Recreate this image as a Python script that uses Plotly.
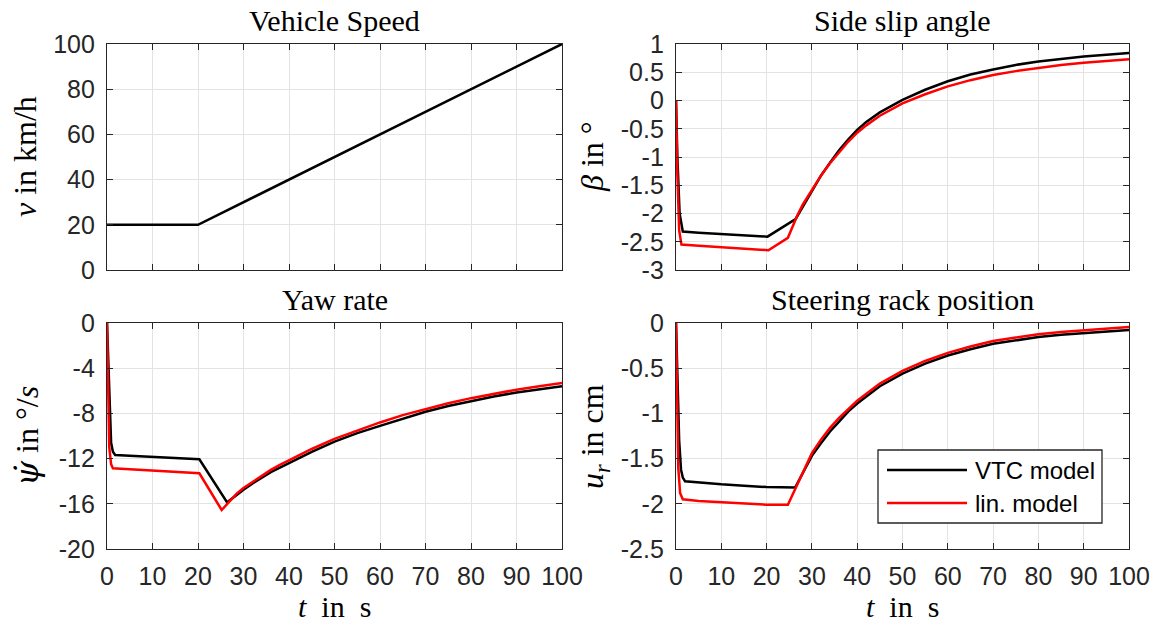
import plotly.graph_objects as go

# ---------------- data ----------------
t_speed = [0, 20, 100]
v_speed = [20, 20, 100]

t_beta_vtc = [0, 0.3, 0.8, 1.5, 5, 10, 15, 20.2, 26.4, 28, 30, 32, 34, 36, 38, 40, 42, 45,
              50, 55, 60, 65, 70, 75, 80, 85, 90, 95, 100]
beta_vtc = [0, -1.0, -2.0, -2.32, -2.34, -2.36, -2.38, -2.41, -2.10, -1.88, -1.60, -1.33, -1.10,
            -0.88, -0.69, -0.52, -0.38, -0.21, 0.01, 0.19, 0.34, 0.46, 0.55, 0.63, 0.69, 0.74,
            0.78, 0.81, 0.84]

t_beta_lin = [0, 0.3, 0.7, 1.2, 5, 10, 15, 20.4, 24.7, 26.8, 28, 30, 32, 34, 36, 38, 40, 42, 45,
              50, 55, 60, 65, 70, 75, 80, 85, 90, 95, 100]
beta_lin = [0, -1.3, -2.3, -2.55, -2.57, -2.60, -2.62, -2.65, -2.43, -2.03, -1.84, -1.58, -1.33,
            -1.11, -0.91, -0.73, -0.57, -0.44, -0.27, -0.05, 0.11, 0.25, 0.36, 0.45, 0.52, 0.58,
            0.63, 0.67, 0.70, 0.73]

t_yaw_vtc = [0, 0.3, 0.6, 0.9, 1.3, 1.8, 5, 10, 15, 20.3, 26.4, 28, 30, 32, 34, 36, 38, 40, 45,
             50, 55, 60, 65, 70, 75, 80, 85, 90, 95, 100]
yaw_vtc = [0, -3.5, -8.0, -10.6, -11.4, -11.68, -11.75, -11.85, -11.95, -12.06, -15.87, -15.35,
           -14.75, -14.2, -13.7, -13.2, -12.8, -12.4, -11.4, -10.5, -9.75, -9.1, -8.45, -7.85,
           -7.35, -6.9, -6.5, -6.15, -5.85, -5.6]

t_yaw_lin = [0, 0.2, 0.5, 0.9, 1.3, 5, 10, 15, 20.3, 25.2, 27, 28.5, 30, 32, 34, 36, 38, 40, 45,
             50, 55, 60, 65, 70, 75, 80, 85, 90, 95, 100]
yaw_lin = [0, -5.0, -11.0, -12.5, -12.85, -12.95, -13.05, -13.15, -13.3, -16.55, -15.75, -15.1,
           -14.6, -14.05, -13.5, -13.0, -12.55, -12.15, -11.15, -10.25, -9.5, -8.8, -8.15, -7.6,
           -7.1, -6.65, -6.25, -5.9, -5.6, -5.3]

t_rack_vtc = [0, 0.3, 0.7, 1.1, 1.5, 2, 5, 10, 15, 20, 26.3, 28, 30, 32, 34, 36, 38, 40, 45, 50,
              55, 60, 65, 70, 75, 80, 85, 90, 95, 100]
rack_vtc = [0, -0.6, -1.3, -1.62, -1.71, -1.75, -1.765, -1.785, -1.80, -1.815, -1.82, -1.66,
            -1.47, -1.33, -1.20, -1.09, -0.98, -0.89, -0.70, -0.56, -0.45, -0.36, -0.29, -0.23,
            -0.19, -0.155, -0.13, -0.11, -0.093, -0.078]

t_rack_lin = [0, 0.2, 0.5, 0.9, 1.5, 5, 10, 15, 20, 24.7, 26, 27.6, 30, 32, 34, 36, 38, 40, 45,
              50, 55, 60, 65, 70, 75, 80, 85, 90, 95, 100]
rack_lin = [0, -0.8, -1.6, -1.88, -1.95, -1.97, -1.985, -2.0, -2.01, -2.01, -1.87, -1.69, -1.44,
            -1.29, -1.16, -1.05, -0.95, -0.86, -0.67, -0.53, -0.42, -0.33, -0.26, -0.20, -0.16,
            -0.125, -0.10, -0.08, -0.06, -0.045]

x_ticks = [0, 10, 20, 30, 40, 50, 60, 70, 80, 90, 100]
speed_ticks = [0, 20, 40, 60, 80, 100]
beta_ticks = [1, 0.5, 0, -0.5, -1, -1.5, -2, -2.5, -3]
yaw_ticks = [0, -4, -8, -12, -16, -20]
rack_ticks = [0, -0.5, -1, -1.5, -2, -2.5]

titles = ["Vehicle Speed", "Side slip angle", "Yaw rate", "Steering rack position"]
ylabels = ["<i>v</i>&nbsp;in&nbsp;km/h", "<i>β</i>&nbsp;in&nbsp;°",
           "<span style='font-family:DejaVu Serif'><i>ψ̇</i></span>&nbsp;in&nbsp;°/<i>s</i>",
           "<i>u</i><sub><i>r</i></sub>&nbsp;in&nbsp;cm"]
xlabel = "<i>t</i>&nbsp; in&nbsp; s"
legend_names = ["VTC model", "lin. model"]

# ---------------- layout helpers ----------------
W, H = 1155, 630
def px(x):
    return x / W
def py(y):
    return 1 - y / H

AX = "#262626"
GRID = "#e3e3e3"
TICKFONT = dict(family="Liberation Sans, Arial, sans-serif", size=25, color=AX)
SERIF = "Liberation Serif, Times New Roman, serif"

left = [px(107), px(562)]
right = [px(676), px(1129)]
top = [py(270), py(44)]
bottom = [py(549), py(323)]

fig = go.Figure()

BLACK = "#000000"
RED = "#ff0000"
LW = 2.5

fig.add_trace(go.Scatter(x=t_speed, y=v_speed, mode="lines", line=dict(color=BLACK, width=LW),
                         xaxis="x", yaxis="y", showlegend=False))
fig.add_trace(go.Scatter(x=t_beta_vtc, y=beta_vtc, mode="lines", line=dict(color=BLACK, width=LW),
                         xaxis="x2", yaxis="y2", showlegend=False))
fig.add_trace(go.Scatter(x=t_beta_lin, y=beta_lin, mode="lines", line=dict(color=RED, width=LW),
                         xaxis="x2", yaxis="y2", showlegend=False))
fig.add_trace(go.Scatter(x=t_yaw_vtc, y=yaw_vtc, mode="lines", line=dict(color=BLACK, width=LW),
                         xaxis="x3", yaxis="y3", showlegend=False))
fig.add_trace(go.Scatter(x=t_yaw_lin, y=yaw_lin, mode="lines", line=dict(color=RED, width=LW),
                         xaxis="x3", yaxis="y3", showlegend=False))
fig.add_trace(go.Scatter(x=t_rack_vtc, y=rack_vtc, mode="lines", line=dict(color=BLACK, width=LW),
                         xaxis="x4", yaxis="y4", name=legend_names[0], showlegend=False))
fig.add_trace(go.Scatter(x=t_rack_lin, y=rack_lin, mode="lines", line=dict(color=RED, width=LW),
                         xaxis="x4", yaxis="y4", name=legend_names[1], showlegend=False))

def xaxis(domain, anchor, labels):
    return dict(domain=domain, anchor=anchor, range=[0, 100], tickvals=x_ticks,
                ticktext=[f"{v:g}" for v in x_ticks], showticklabels=labels,
                ticks="inside", ticklen=6, tickcolor=AX, tickwidth=1,
                showline=True, linecolor=AX, linewidth=1.3, mirror="ticks",
                showgrid=True, gridcolor=GRID, gridwidth=1, zeroline=False,
                tickfont=TICKFONT, ticklabelstandoff=5, automargin=False)

def yaxis(domain, anchor, rng, vals):
    return dict(domain=domain, anchor=anchor, range=rng, tickvals=vals,
                ticktext=[f"{v:g}" for v in vals],
                ticks="inside", ticklen=6, tickcolor=AX, tickwidth=1,
                showline=True, linecolor=AX, linewidth=1.3, mirror="ticks",
                showgrid=True, gridcolor=GRID, gridwidth=1, zeroline=False,
                tickfont=TICKFONT, ticklabelstandoff=6, automargin=False)

fig.update_layout(
    width=W, height=H, margin=dict(l=0, r=0, t=0, b=0, pad=0, autoexpand=False),
    paper_bgcolor="white", plot_bgcolor="white",
    xaxis=xaxis(left, "y", False),
    yaxis=yaxis(top, "x", [0, 100], speed_ticks),
    xaxis2=xaxis(right, "y2", False),
    yaxis2=yaxis(top, "x2", [-3, 1], beta_ticks),
    xaxis3=xaxis(left, "y3", True),
    yaxis3=yaxis(bottom, "x3", [-20, 0], yaw_ticks),
    xaxis4=xaxis(right, "y4", True),
    yaxis4=yaxis(bottom, "x4", [-2.5, 0], rack_ticks),
)

ann = []
title_pos = [((107 + 562) / 2, 20), ((676 + 1129) / 2, 20),
             ((107 + 562) / 2, 299), ((676 + 1129) / 2, 299)]
for txt, (x, y) in zip(titles, title_pos):
    ann.append(dict(text=txt, x=px(x), y=py(y), xref="paper", yref="paper",
                    xanchor="center", yanchor="middle", showarrow=False,
                    font=dict(family=SERIF, size=30, color="#000")))
ylab_pos = [(25, 157), (592, 157), (27, 436), (594, 436)]
for txt, (x, y) in zip(ylabels, ylab_pos):
    ann.append(dict(text=txt, x=px(x), y=py(y), xref="paper", yref="paper",
                    xanchor="center", yanchor="middle", showarrow=False, textangle=-90,
                    font=dict(family=SERIF, size=32, color="#000")))
for x in [(107 + 562) / 2, (676 + 1129) / 2]:
    ann.append(dict(text=xlabel, x=px(x), y=py(606), xref="paper", yref="paper",
                    xanchor="center", yanchor="middle", showarrow=False,
                    font=dict(family=SERIF, size=30, color="#000")))

# legend (drawn as a MATLAB-style box)
shapes = [dict(type="rect", xref="paper", yref="paper", x0=px(878), x1=px(1102),
               y0=py(523), y1=py(450), fillcolor="white", line=dict(color=AX, width=1.3),
               layer="above")]
for i, (name, col) in enumerate(zip(legend_names, [BLACK, RED])):
    yy = 470 + 33 * i
    shapes.append(dict(type="line", xref="paper", yref="paper", x0=px(887), x1=px(967),
                       y0=py(yy), y1=py(yy), line=dict(color=col, width=LW), layer="above"))
    ann.append(dict(text=name, x=px(973), y=py(yy), xref="paper", yref="paper",
                    xanchor="left", yanchor="middle", showarrow=False,
                    font=dict(family="Liberation Sans, Arial, sans-serif", size=24, color="#000")))

fig.update_layout(annotations=ann, shapes=shapes)
fig.write_html(
    "out.html",
    post_script="document.documentElement.style.margin='0';"
                "document.body.style.margin='0';document.body.style.padding='0';"
                "document.body.style.overflow='hidden';",
)
